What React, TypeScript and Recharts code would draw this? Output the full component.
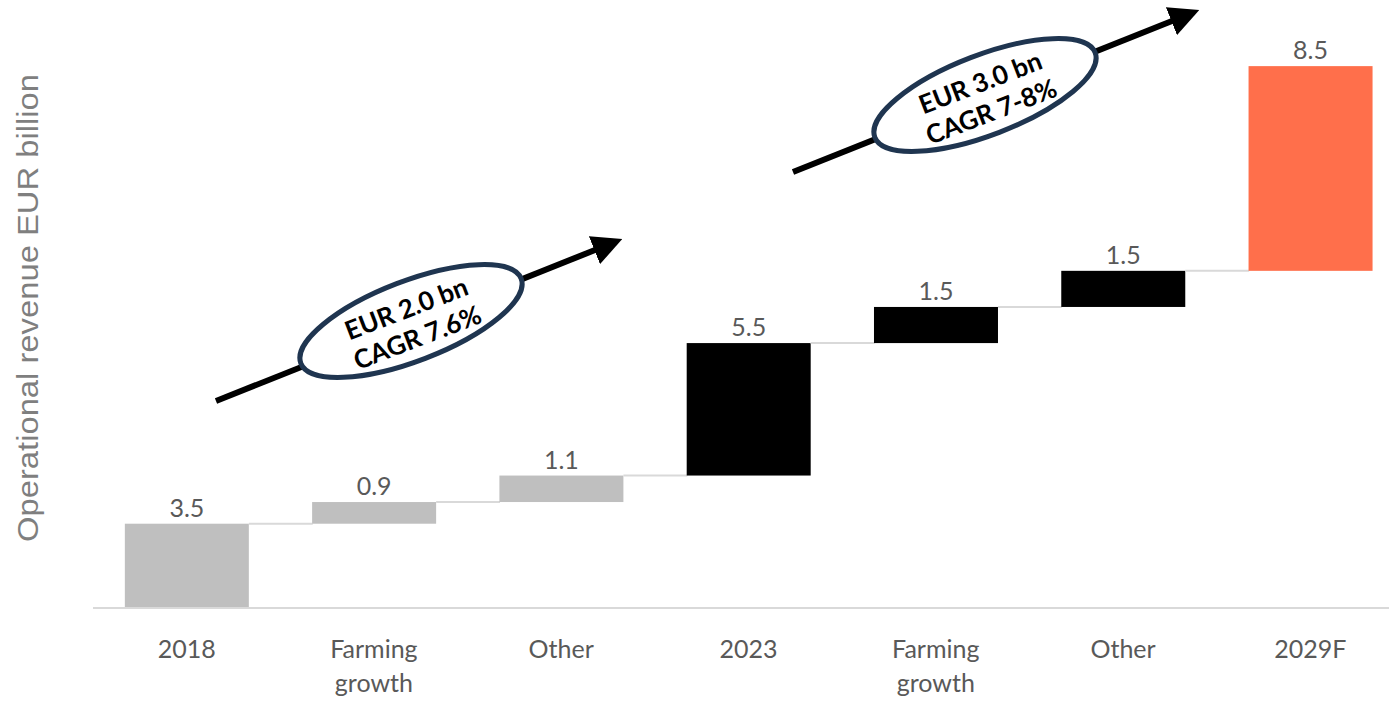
import React from 'react';
import { BarChart, Bar, XAxis, YAxis, Cell, LabelList } from 'recharts';

const categories = ['2018', 'Farming\ngrowth', 'Other', '2023', 'Farming\ngrowth', 'Other', '2029F'];
const values = [3.5, 0.9, 1.1, 5.5, 1.5, 1.5, 8.5];
const barColors = ['#bfbfbf', '#bfbfbf', '#bfbfbf', '#000000', '#000000', '#000000', '#ff6f4b'];
const yDomain = [0, 24];

// every step sits on top of the previous one
let running = 0;
const rows = categories.map((name, i) => {
  const base = running;
  running += values[i];
  return { name, base, value: values[i] };
});

const GAP = 0.17;
const FONT = 'Lato, "Open Sans", sans-serif';

const StepBar = (props: any) => {
  const { x, y, width, height, fill, index } = props;
  const gap = (width * 2 * GAP) / (1 - 2 * GAP);
  return (
    <g>
      <rect x={x} y={y} width={width} height={height} fill={fill} />
      {index < values.length - 1 && (
        <line x1={x + width} x2={x + width + gap} y1={y} y2={y} stroke="#d9d9d9" strokeWidth={2} />
      )}
    </g>
  );
};

const CategoryTick = (props: any) => {
  const { x, y, payload } = props;
  const lines = String(payload.value).split('\n');
  return (
    <text x={x} y={y + 42} textAnchor="middle" fill="#595959" fontSize={25} fontFamily={FONT}>
      {lines.map((l, i) => (
        <tspan key={i} x={x} dy={i === 0 ? 0 : 34}>
          {l}
        </tspan>
      ))}
    </text>
  );
};

const Arrow = ({ x1, y1, x2, y2 }: { x1: number; y1: number; x2: number; y2: number }) => (
  <line x1={x1} y1={y1} x2={x2} y2={y2} stroke="#000" strokeWidth={6} markerEnd="url(#head)" />
);

const Badge = ({ cx, cy, top, bottom }: { cx: number; cy: number; top: string; bottom: string }) => (
  <g transform={`translate(${cx},${cy}) rotate(-21)`}>
    <ellipse cx={0} cy={0} rx={118} ry={40} fill="#fff" stroke="#1f3550" strokeWidth={5} />
    <text textAnchor="middle" fontFamily={FONT} fontWeight={700} fontSize={26} fill="#000">
      <tspan x={0} y={-4}>{top}</tspan>
      <tspan x={0} y={27}>{bottom}</tspan>
    </text>
  </g>
);

export default function App() {
  return (
    <div style={{ position: 'absolute', left: 0, top: 0, width: 1389, height: 701, overflow: 'hidden', background: '#fff' }}>
      <BarChart
        width={1404}
        height={701}
        data={rows}
        margin={{ top: 30, right: 0, left: 93, bottom: 0 }}
        barCategoryGap={`${GAP * 100}%`}
      >
        <XAxis
          dataKey="name"
          height={93}
          tickLine={false}
          axisLine={{ stroke: '#d9d9d9', strokeWidth: 2 }}
          tick={<CategoryTick />}
          interval={0}
        />
        <YAxis hide domain={yDomain} />
        <Bar dataKey="base" stackId="w" fill="transparent" isAnimationActive={false} />
        <Bar dataKey="value" stackId="w" shape={<StepBar />} isAnimationActive={false}>
          {rows.map((r, i) => (
            <Cell key={i} fill={barColors[i]} />
          ))}
          <LabelList dataKey="value" position="top" offset={7} fill="#595959" fontSize={25} fontFamily={FONT} />
        </Bar>
      </BarChart>
      <svg width={1389} height={701} style={{ position: 'absolute', left: 0, top: 0, pointerEvents: 'none' }}>
        <defs>
          <marker id="head" markerWidth="5" markerHeight="5" refX="1" refY="2.5" orient="auto" markerUnits="strokeWidth">
            <path d="M0,0 L5,2.5 L0,5 Z" fill="#000" />
          </marker>
        </defs>
        <text
          transform="translate(38,308) rotate(-90)"
          textAnchor="middle"
          fontFamily='"Liberation Sans", Arial, sans-serif'
          fontSize={29}
          fill="#7f7f7f"
          textLength={468}
          lengthAdjust="spacingAndGlyphs"
        >
          Operational revenue EUR billion
        </text>
        <Arrow x1={216} y1={401} x2={600} y2={248} />
        <Arrow x1={793} y1={172} x2={1177} y2={19} />
        <Badge cx={411} cy={321} top="EUR 2.0 bn" bottom="CAGR 7.6%" />
        <Badge cx={985} cy={95} top="EUR 3.0 bn" bottom="CAGR 7-8%" />
      </svg>
    </div>
  );
}
